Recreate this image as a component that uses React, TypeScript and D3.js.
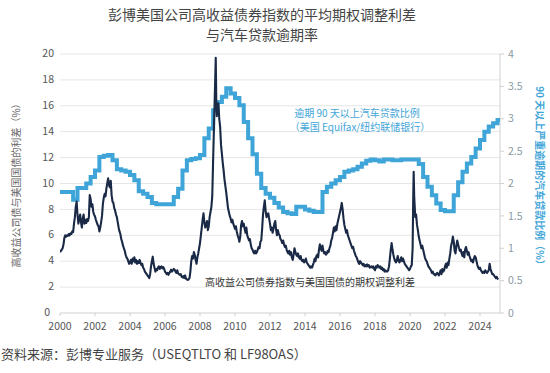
import React from 'react';
import * as d3 from 'd3';

const width = 550;
const height = 373;
const margin = { top: 54, right: 50, bottom: 60, left: 60 };
const plotRight = 500;

const titleLines = ['彭博美国公司高收益债券指数的平均期权调整利差', '与汽车贷款逾期率'];
const leftTicks = [0, 2, 4, 6, 8, 10, 12, 14, 16, 18, 20];
const rightTicks = [0, 0.5, 1, 1.5, 2, 2.5, 3, 3.5, 4];
const yearTicks = [2000, 2002, 2004, 2006, 2008, 2010, 2012, 2014, 2016, 2018, 2020, 2022, 2024];

// auto loans 90+ days delinquent, quarterly (right axis, %)
const autoStart = 2000;
const autoValues = [
  1.87, 1.87, 1.87, 1.75,
  1.93, 1.93, 2.0, 2.1,
  2.2, 2.41, 2.43, 2.44,
  2.36, 2.22, 2.2, 2.18,
  2.13, 2.05, 1.88, 1.84,
  1.79, 1.7, 1.68, 1.68,
  1.68, 1.68, 1.79, 1.92,
  2.2, 2.36, 2.38, 2.39,
  2.44, 2.7, 2.85, 3.13,
  3.26, 3.34, 3.47, 3.39,
  3.32, 3.21, 2.95, 2.7,
  2.45, 2.15, 1.93, 1.84,
  1.78, 1.7, 1.63, 1.56,
  1.54, 1.53, 1.64, 1.64,
  1.6, 1.58, 1.56, 1.56,
  1.87, 1.95, 2.0, 2.05,
  2.1, 2.18, 2.2, 2.22,
  2.26, 2.31, 2.35, 2.37,
  2.36, 2.34, 2.37, 2.37,
  2.36, 2.36, 2.37, 2.37,
  2.37, 2.37, 2.3, 2.1,
  1.95, 1.82, 1.69, 1.59,
  1.57, 1.57, 1.82, 2.02,
  2.18, 2.31, 2.41, 2.54,
  2.67, 2.8, 2.88, 2.93,
  2.98,
];

// high-yield OAS vs treasuries (left axis, %): [year, value]
const oasPoints: [number, number][] = [
  [2000.0, 4.7], [2000.05, 4.8], [2000.1, 4.9], [2000.15, 5.0], [2000.2, 5.3], [2000.25, 5.8], [2000.3, 6.0], [2000.35, 5.9],
  [2000.4, 6.0], [2000.45, 5.95], [2000.5, 6.1], [2000.55, 6.0], [2000.6, 6.15], [2000.65, 6.1], [2000.7, 6.3], [2000.75, 6.25],
  [2000.8, 6.9], [2000.85, 7.4], [2000.9, 8.2], [2000.95, 8.6], [2001.0, 7.6], [2001.05, 6.9], [2001.1, 7.3], [2001.15, 7.6],
  [2001.2, 7.0], [2001.25, 6.6], [2001.3, 7.3], [2001.35, 7.6], [2001.4, 6.9], [2001.45, 7.2], [2001.5, 6.95], [2001.55, 7.25],
  [2001.6, 7.1], [2001.65, 7.4], [2001.7, 9.1], [2001.75, 8.8], [2001.8, 8.2], [2001.85, 8.4], [2001.9, 7.8], [2001.95, 7.6],
  [2002.0, 7.45], [2002.05, 7.2], [2002.1, 7.0], [2002.15, 6.8], [2002.2, 6.7], [2002.25, 6.3], [2002.3, 6.6], [2002.35, 7.0],
  [2002.4, 7.5], [2002.45, 8.4], [2002.5, 8.9], [2002.55, 9.2], [2002.6, 9.0], [2002.65, 9.6], [2002.7, 10.0], [2002.75, 10.4],
  [2002.8, 9.9], [2002.85, 9.7], [2002.9, 10.2], [2002.95, 9.1], [2003.0, 8.6], [2003.05, 8.5], [2003.1, 8.1], [2003.15, 7.9],
  [2003.2, 7.6], [2003.25, 7.4], [2003.3, 7.0], [2003.35, 6.6], [2003.4, 6.3], [2003.45, 6.1], [2003.5, 5.7], [2003.55, 5.5],
  [2003.6, 5.2], [2003.65, 5.0], [2003.7, 4.8], [2003.75, 4.5], [2003.8, 4.3], [2003.85, 4.2], [2003.9, 4.0], [2003.95, 3.8],
  [2004.0, 3.9], [2004.05, 4.1], [2004.1, 3.8], [2004.15, 4.2], [2004.2, 4.0], [2004.25, 4.3], [2004.3, 3.9], [2004.35, 4.1],
  [2004.4, 3.8], [2004.45, 4.0], [2004.5, 3.85], [2004.55, 4.1], [2004.6, 3.9], [2004.65, 3.7], [2004.7, 3.8], [2004.75, 3.5],
  [2004.8, 3.4], [2004.85, 3.2], [2004.9, 3.1], [2004.95, 3.0], [2005.0, 2.9], [2005.05, 2.8], [2005.1, 2.7], [2005.15, 3.0],
  [2005.2, 3.6], [2005.25, 4.0], [2005.3, 4.35], [2005.35, 3.8], [2005.4, 3.5], [2005.45, 3.2], [2005.5, 3.4], [2005.55, 3.3],
  [2005.6, 3.5], [2005.65, 3.6], [2005.7, 3.4], [2005.75, 3.55], [2005.8, 3.6], [2005.85, 3.45], [2005.9, 3.55], [2005.95, 3.4],
  [2006.0, 3.2], [2006.05, 3.1], [2006.1, 3.0], [2006.15, 3.1], [2006.2, 2.95], [2006.25, 3.1], [2006.3, 3.2], [2006.35, 3.35],
  [2006.4, 3.2], [2006.45, 3.3], [2006.5, 3.4], [2006.55, 3.35], [2006.6, 3.2], [2006.65, 3.1], [2006.7, 3.3], [2006.75, 3.05],
  [2006.8, 3.0], [2006.85, 2.95], [2006.9, 3.0], [2006.95, 2.8], [2007.0, 2.75], [2007.05, 2.85], [2007.1, 2.7], [2007.15, 2.9],
  [2007.2, 2.65], [2007.25, 2.6], [2007.3, 2.55], [2007.35, 2.6], [2007.4, 2.7], [2007.45, 3.2], [2007.5, 4.0], [2007.55, 4.4],
  [2007.6, 4.2], [2007.65, 4.7], [2007.7, 4.5], [2007.75, 4.1], [2007.8, 3.8], [2007.85, 4.3], [2007.9, 4.6], [2007.95, 5.0],
  [2008.0, 5.4], [2008.05, 6.0], [2008.1, 6.6], [2008.15, 7.2], [2008.2, 7.7], [2008.25, 7.0], [2008.3, 6.6], [2008.35, 6.8],
  [2008.4, 7.1], [2008.45, 6.4], [2008.5, 6.7], [2008.55, 7.4], [2008.6, 7.8], [2008.65, 8.2], [2008.7, 9.0], [2008.75, 11.8],
  [2008.8, 14.5], [2008.85, 17.0], [2008.9, 19.7], [2008.93, 16.5], [2008.96, 15.2], [2009.0, 16.0], [2009.05, 16.2], [2009.1, 15.0],
  [2009.15, 14.4], [2009.2, 13.0], [2009.25, 12.3], [2009.3, 11.6], [2009.35, 11.0], [2009.4, 10.3], [2009.45, 9.8], [2009.5, 9.3],
  [2009.55, 8.7], [2009.6, 8.1], [2009.65, 7.8], [2009.7, 7.5], [2009.75, 7.3], [2009.8, 7.0], [2009.85, 7.2], [2009.9, 6.9],
  [2009.95, 6.7], [2010.0, 6.5], [2010.05, 6.7], [2010.1, 6.3], [2010.15, 6.0], [2010.2, 5.8], [2010.25, 5.5], [2010.3, 5.9],
  [2010.35, 6.8], [2010.4, 7.1], [2010.45, 6.7], [2010.5, 6.9], [2010.55, 6.5], [2010.6, 6.2], [2010.65, 6.6], [2010.7, 6.0],
  [2010.75, 5.8], [2010.8, 5.6], [2010.85, 5.7], [2010.9, 5.3], [2010.95, 5.0], [2011.0, 4.9], [2011.05, 4.7], [2011.1, 4.6],
  [2011.15, 4.8], [2011.2, 4.6], [2011.25, 4.7], [2011.3, 4.9], [2011.35, 5.1], [2011.4, 5.0], [2011.45, 5.5], [2011.5, 5.6],
  [2011.55, 6.5], [2011.6, 7.6], [2011.65, 8.2], [2011.7, 8.7], [2011.75, 7.9], [2011.8, 7.4], [2011.85, 7.6], [2011.9, 7.7],
  [2011.95, 7.3], [2012.0, 6.9], [2012.05, 6.4], [2012.1, 6.6], [2012.15, 6.2], [2012.2, 6.5], [2012.25, 6.9], [2012.3, 7.1],
  [2012.35, 6.4], [2012.4, 6.0], [2012.45, 6.4], [2012.5, 6.1], [2012.55, 6.0], [2012.6, 5.7], [2012.65, 5.6], [2012.7, 5.4],
  [2012.75, 5.6], [2012.8, 5.3], [2012.85, 5.1], [2012.9, 5.2], [2012.95, 4.9], [2013.0, 4.7], [2013.05, 4.6], [2013.1, 4.8],
  [2013.15, 4.5], [2013.2, 4.7], [2013.25, 4.3], [2013.3, 4.1], [2013.35, 4.5], [2013.4, 5.0], [2013.45, 4.7], [2013.5, 4.5],
  [2013.55, 4.4], [2013.6, 4.6], [2013.65, 4.3], [2013.7, 4.2], [2013.75, 4.4], [2013.8, 4.1], [2013.85, 4.0], [2013.9, 4.1],
  [2013.95, 3.9], [2014.0, 4.0], [2014.05, 4.2], [2014.1, 3.9], [2014.15, 3.8], [2014.2, 3.7], [2014.25, 3.6], [2014.3, 3.5],
  [2014.35, 3.6], [2014.4, 3.5], [2014.45, 3.7], [2014.5, 3.9], [2014.55, 4.2], [2014.6, 4.0], [2014.65, 4.4], [2014.7, 4.5],
  [2014.75, 4.3], [2014.8, 4.9], [2014.85, 5.3], [2014.9, 5.0], [2014.95, 4.8], [2015.0, 5.2], [2015.05, 4.8], [2015.1, 4.6],
  [2015.15, 4.7], [2015.2, 4.5], [2015.25, 4.6], [2015.3, 4.8], [2015.35, 4.7], [2015.4, 5.0], [2015.45, 5.2], [2015.5, 5.6],
  [2015.55, 5.8], [2015.6, 6.2], [2015.65, 6.6], [2015.7, 6.3], [2015.75, 6.7], [2015.8, 6.4], [2015.85, 6.9], [2015.9, 7.2],
  [2015.95, 7.5], [2016.0, 7.8], [2016.05, 8.1], [2016.1, 8.5], [2016.15, 8.0], [2016.2, 7.3], [2016.25, 6.8], [2016.3, 6.5],
  [2016.35, 6.2], [2016.4, 6.4], [2016.45, 6.0], [2016.5, 5.8], [2016.55, 5.6], [2016.6, 5.4], [2016.65, 5.2], [2016.7, 5.0],
  [2016.75, 5.1], [2016.8, 4.8], [2016.85, 4.6], [2016.9, 4.4], [2016.95, 4.3], [2017.0, 4.1], [2017.05, 3.9], [2017.1, 3.8],
  [2017.15, 4.0], [2017.2, 3.9], [2017.25, 3.8], [2017.3, 3.7], [2017.35, 3.8], [2017.4, 3.6], [2017.45, 3.7], [2017.5, 3.6],
  [2017.55, 3.75], [2017.6, 3.6], [2017.65, 3.7], [2017.7, 3.5], [2017.75, 3.55], [2017.8, 3.6], [2017.85, 3.5], [2017.9, 3.6],
  [2017.95, 3.4], [2018.0, 3.3], [2018.05, 3.6], [2018.1, 3.5], [2018.15, 3.7], [2018.2, 3.6], [2018.25, 3.5], [2018.3, 3.6],
  [2018.35, 3.4], [2018.4, 3.5], [2018.45, 3.3], [2018.5, 3.4], [2018.55, 3.2], [2018.6, 3.3], [2018.65, 3.2], [2018.7, 3.2],
  [2018.75, 3.3], [2018.8, 3.6], [2018.85, 4.2], [2018.9, 4.9], [2018.95, 5.4], [2019.0, 4.9], [2019.05, 4.5], [2019.1, 4.2],
  [2019.15, 4.0], [2019.2, 3.9], [2019.25, 4.1], [2019.3, 4.4], [2019.35, 4.0], [2019.4, 3.9], [2019.45, 4.1], [2019.5, 4.3],
  [2019.55, 4.0], [2019.6, 4.2], [2019.65, 4.0], [2019.7, 3.8], [2019.75, 3.7], [2019.8, 3.6], [2019.85, 3.5], [2019.9, 3.4],
  [2019.95, 3.3], [2020.0, 3.4], [2020.05, 3.6], [2020.1, 3.7], [2020.15, 5.0], [2020.18, 8.5], [2020.21, 10.9], [2020.24, 9.0],
  [2020.27, 8.2], [2020.3, 7.4], [2020.35, 7.6], [2020.4, 6.8], [2020.45, 6.4], [2020.5, 5.9], [2020.55, 5.6], [2020.6, 5.3],
  [2020.65, 5.0], [2020.7, 5.2], [2020.75, 4.9], [2020.8, 4.6], [2020.85, 4.3], [2020.9, 4.1], [2020.95, 4.0], [2021.0, 3.8],
  [2021.05, 3.6], [2021.1, 3.5], [2021.15, 3.4], [2021.2, 3.3], [2021.25, 3.1], [2021.3, 3.2], [2021.35, 3.0], [2021.4, 3.0],
  [2021.45, 2.9], [2021.5, 3.0], [2021.55, 3.1], [2021.6, 3.0], [2021.65, 2.9], [2021.7, 3.1], [2021.75, 3.3], [2021.8, 3.0],
  [2021.85, 3.4], [2021.9, 3.2], [2021.95, 3.3], [2022.0, 3.6], [2022.05, 3.8], [2022.1, 3.5], [2022.15, 3.9], [2022.2, 3.7],
  [2022.25, 4.2], [2022.3, 4.6], [2022.35, 5.2], [2022.4, 5.5], [2022.45, 5.9], [2022.5, 5.5], [2022.55, 4.8], [2022.6, 4.6],
  [2022.65, 5.2], [2022.7, 5.6], [2022.75, 5.3], [2022.8, 5.0], [2022.85, 4.8], [2022.9, 4.9], [2022.95, 4.6], [2023.0, 4.4],
  [2023.05, 4.7], [2023.1, 4.3], [2023.15, 4.9], [2023.2, 5.1], [2023.25, 4.8], [2023.3, 4.5], [2023.35, 4.7], [2023.4, 4.4],
  [2023.45, 4.2], [2023.5, 4.0], [2023.55, 4.1], [2023.6, 3.9], [2023.65, 4.2], [2023.7, 4.4], [2023.75, 4.3], [2023.8, 4.0],
  [2023.85, 3.7], [2023.9, 3.5], [2023.95, 3.4], [2024.0, 3.5], [2024.05, 3.3], [2024.1, 3.2], [2024.15, 3.1], [2024.2, 3.2],
  [2024.25, 3.1], [2024.3, 3.3], [2024.35, 3.2], [2024.4, 3.1], [2024.45, 3.2], [2024.5, 3.3], [2024.55, 3.8], [2024.6, 3.4],
  [2024.65, 3.2], [2024.7, 3.0], [2024.75, 3.0], [2024.8, 2.9], [2024.85, 2.8], [2024.9, 2.7], [2024.95, 2.8], [2025.0, 2.65],
  [2025.05, 2.6],
];

const blue = '#3fa5d8';
const navy = '#1a2946';
const font = "'Noto Sans CJK SC', 'Noto Sans', sans-serif";

export default function App() {
  const x = d3.scaleLinear().domain([2000, 2024]).range([margin.left, 480]);
  const yL = d3.scaleLinear().domain([0, 20]).range([height - margin.bottom, margin.top]);
  const yR = d3.scaleLinear().domain([0, 4]).range([height - margin.bottom, margin.top]);
  const bottom = height - margin.bottom;

  const autoData = autoValues.map((v, i) => [autoStart + i * 0.25, v] as [number, number]);
  const autoLine = d3.line<[number, number]>()
    .x(d => x(d[0]))
    .y(d => yR(d[1]))
    .curve(d3.curveStepAfter);
  // extend the last quarter to its end so the step reaches the right axis
  const autoPath = autoLine([...autoData, [autoData[autoData.length - 1][0] + 0.25, autoValues[autoValues.length - 1]]]);

  const oasLine = d3.line<[number, number]>().x(d => x(d[0])).y(d => yL(d[1]));

  return (
    <svg width={width} height={height} style={{ position: 'absolute', left: 0, top: 0, background: '#fff' }} fontFamily={font}>
      <defs>
        <clipPath id="plot">
          <rect x={margin.left} y={0} width={plotRight - margin.left} height={bottom} />
        </clipPath>
      </defs>
      {titleLines.map((t, i) => (
        <text key={i} x={262} y={20 + i * 20} textAnchor="middle" fontSize={14} fill="#444">{t}</text>
      ))}

      {leftTicks.filter(t => t > 0).map(t => (
        <line key={t} x1={margin.left} x2={plotRight} y1={yL(t)} y2={yL(t)} stroke="#e6e6e6" strokeWidth={1} />
      ))}
      {leftTicks.map(t => (
        <text key={t} x={t === 0 ? 50 : 54} y={yL(t)} dy="0.3em" textAnchor="end" fontSize={10.5} fill="#555">{t}</text>
      ))}

      <line x1={margin.left} x2={plotRight} y1={bottom} y2={bottom} stroke="#d0d0d0" />
      {yearTicks.map(t => (
        <g key={t}>
          <line x1={x(t)} x2={x(t)} y1={bottom} y2={bottom + 3} stroke="#d0d0d0" />
          <text x={x(t)} y={bottom + 17} textAnchor="middle" fontSize={10.5} fill="#555">{t}</text>
        </g>
      ))}

      <line x1={plotRight} x2={plotRight} y1={margin.top} y2={bottom} stroke="#d0d0d0" />
      {rightTicks.map(t => (
        <g key={t}>
          <line x1={plotRight} x2={plotRight + 4} y1={yR(t)} y2={yR(t)} stroke="#d0d0d0" />
          <text x={plotRight + 8} y={yR(t)} dy="0.35em" fontSize={10.5} fill="#8a9aa3">{t}</text>
        </g>
      ))}

      <text transform={`translate(20, 183) rotate(-90)`} textAnchor="middle" fontSize={10} fill="#666">
        高收益公司债与美国国债的利差（%）
      </text>
      <text transform={`translate(536, 178) rotate(90)`} textAnchor="middle" fontSize={10} fill={blue} fontWeight={600}>
        90 天以上严重逾期的汽车贷款比例（%）
      </text>

      <g clipPath="url(#plot)">
        <path d={autoPath ?? ''} fill="none" stroke={blue} strokeWidth={4} />
        <path d={oasLine(oasPoints) ?? ''} fill="none" stroke={navy} strokeWidth={2.1} strokeLinejoin="round" />
      </g>

      <text x={357} y={117} textAnchor="middle" fontSize={10} fill={blue}>逾期 90 天以上汽车贷款比例</text>
      <text x={360} y={131} textAnchor="middle" fontSize={10} fill={blue}>（美国 Equifax/纽约联储银行）</text>
      <text x={205} y={286} fontSize={10} fill="#333">高收益公司债券指数与美国国债的期权调整利差</text>

      <text x={1} y={359} fontSize={13} fill="#444">资料来源：彭博专业服务（USEQTLTO 和 LF98OAS）</text>
    </svg>
  );
}
